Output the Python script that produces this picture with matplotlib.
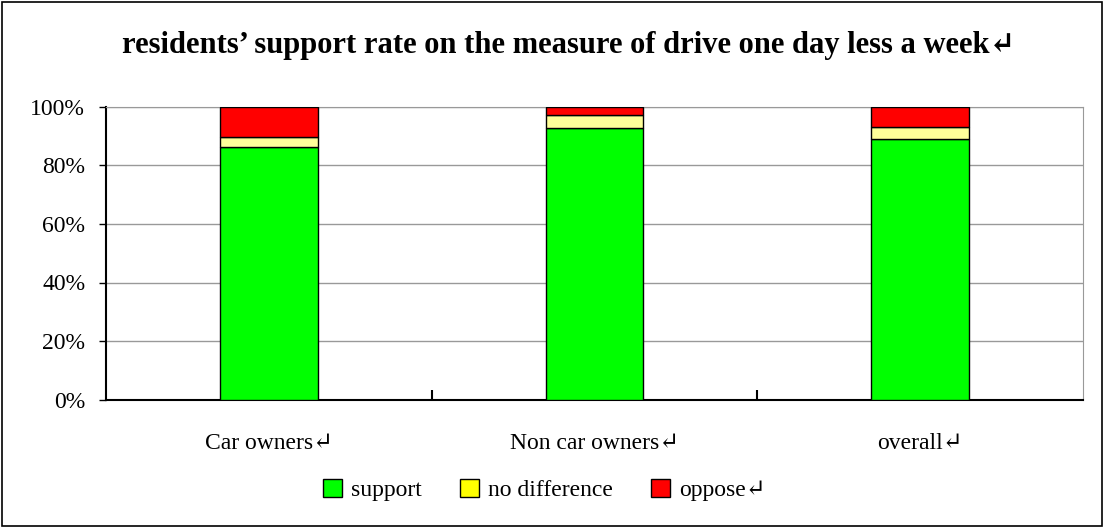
import matplotlib
matplotlib.use("Agg")
import matplotlib.pyplot as plt
from matplotlib.patches import Patch, Rectangle

categories = ["Car owners", "Non car owners", "overall"]
support = [86.2, 92.7, 89.1]
no_difference = [3.6, 4.6, 4.0]
oppose = [10.2, 2.7, 6.9]
series_names = ["support", "no difference", "oppose"]
yticks = [0, 20, 40, 60, 80, 100]
title = "residents\u2019 support rate on the measure of drive one day less a week"

bar_colors = ["#00FF00", "#FFFF99", "#FF0000"]
legend_colors = ["#00FF00", "#FFFF00", "#FF0000"]
serif = ["Liberation Serif", "DejaVu Serif"]
fs = 17

fig = plt.figure(figsize=(11.04, 5.28), dpi=100)
fig.patch.set_facecolor("white")
fig.add_artist(Rectangle((0.002, 0.004), 0.996, 0.992, transform=fig.transFigure,
                         fill=False, edgecolor="black", linewidth=1.2))
ax = fig.add_axes([106 / 1104, 1 - 399.5 / 528, 977 / 1104, 292.5 / 528])

x = list(range(len(categories)))
bottom2 = [a + b for a, b in zip(support, no_difference)]
ax.bar(x, support, width=0.3, color=bar_colors[0], edgecolor="black", linewidth=1, zorder=3)
ax.bar(x, no_difference, width=0.3, bottom=support, color=bar_colors[1], edgecolor="black", linewidth=1, zorder=3)
ax.bar(x, oppose, width=0.3, bottom=bottom2, color=bar_colors[2], edgecolor="black", linewidth=1, zorder=3)

ax.set_xlim(-0.5, len(categories) - 0.5)
ax.set_ylim(0, 100)
ax.set_yticks(yticks)
ax.set_yticklabels([f"{v}%" for v in yticks], fontfamily=serif, fontsize=fs)
ax.yaxis.grid(True, color="#999999", linewidth=1, zorder=0)
ax.tick_params(axis="y", direction="out", length=5, width=1, pad=10)

ax.set_xticks([0.5, 1.5])
ax.set_xticklabels([])
ax.set_xticks(x, minor=True)
ax.set_xticklabels([c + "\u21b5" for c in categories], minor=True,
                   fontfamily=serif, fontsize=fs)
ax.tick_params(axis="x", which="major", direction="in", length=7, width=1.5)
ax.tick_params(axis="x", which="minor", length=0, pad=24)

ax.spines["left"].set_color("black")
ax.spines["left"].set_linewidth(1.5)
ax.spines["bottom"].set_color("black")
ax.spines["bottom"].set_linewidth(1.5)
ax.spines["right"].set_color("#999999")
ax.spines["top"].set_color("#999999")

fig.text(0.515, 1 - 45 / 528, title + "\u21b5", ha="center", va="center",
         fontfamily=serif, fontsize=22, fontweight="bold")

handles = [Patch(facecolor=c, edgecolor="black", linewidth=1) for c in legend_colors]
labels = series_names[:-1] + [series_names[-1] + "\u21b5"]
leg = fig.legend(handles, labels, loc="center", bbox_to_anchor=(0.493, 1 - 490 / 528),
                 ncol=3, frameon=False, prop={"family": serif, "size": fs},
                 handlelength=0.8, handleheight=0.8, handletextpad=0.4, columnspacing=1.6)

fig.savefig("out.png", dpi=100, facecolor="white")
